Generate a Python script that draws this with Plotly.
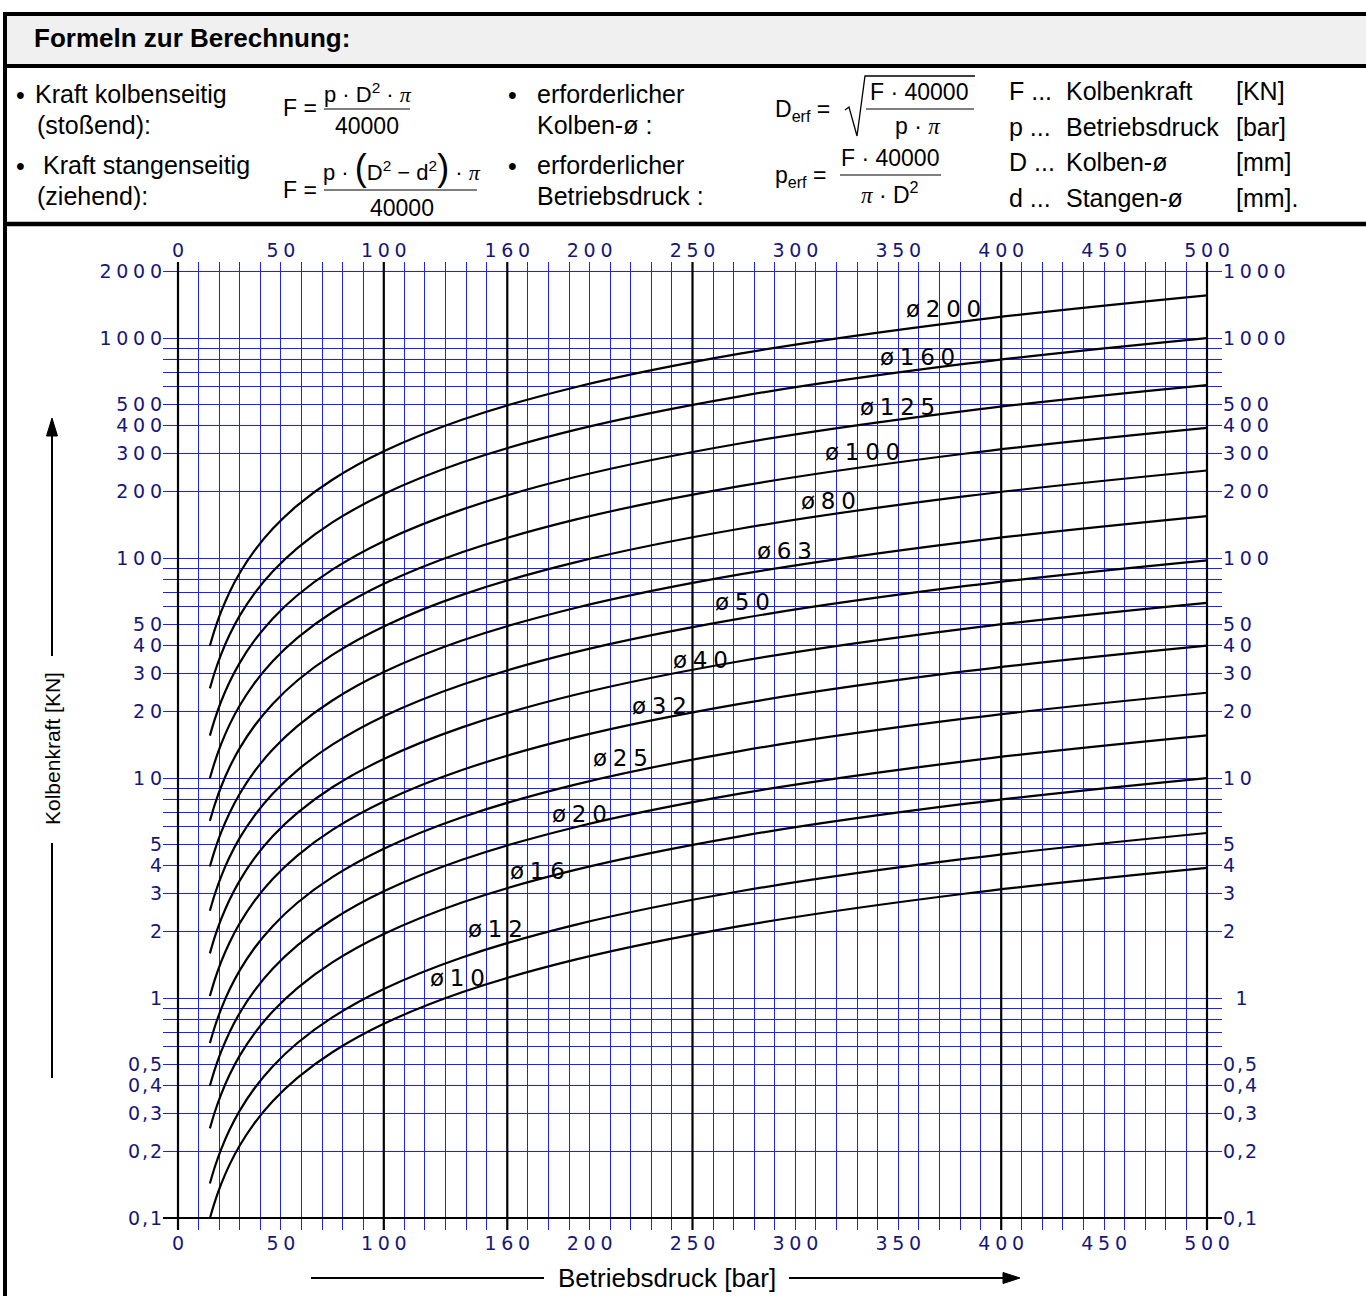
import math
import plotly.graph_objects as go

# ---------------- data ----------------
pressure_bar = [15.5, 18, 21, 25, 30, 37, 46, 58, 75, 100, 138, 193, 273, 383, 500]

diameter_labels = ["10", "12", "16", "20", "25", "32", "40", "50", "63", "80", "100", "125", "160", "200"]

force_d10 = [0.0997, 0.1194, 0.1429, 0.1744, 0.2136, 0.2686, 0.3393, 0.4335, 0.5671, 0.7634, 1.062, 1.494, 2.122, 2.986, 3.905]
force_d12 = [0.1436, 0.1719, 0.2058, 0.2511, 0.3076, 0.3868, 0.4886, 0.6243, 0.8166, 1.099, 1.529, 2.151, 3.056, 4.300, 5.623]
force_d16 = [0.2554, 0.3056, 0.3659, 0.4464, 0.5469, 0.6876, 0.8686, 1.110, 1.452, 1.954, 2.718, 3.824, 5.433, 7.644, 9.997]
force_d20 = [0.3990, 0.4775, 0.5718, 0.6974, 0.8545, 1.074, 1.357, 1.734, 2.268, 3.054, 4.248, 5.975, 8.488, 11.94, 15.62]
force_d25 = [0.6234, 0.7461, 0.8934, 1.090, 1.335, 1.679, 2.121, 2.710, 3.544, 4.771, 6.637, 9.336, 13.26, 18.66, 24.41]
force_d32 = [1.021, 1.222, 1.464, 1.785, 2.188, 2.751, 3.474, 4.439, 5.807, 7.817, 10.87, 15.30, 21.73, 30.58, 39.99]
force_d40 = [1.596, 1.910, 2.287, 2.790, 3.418, 4.298, 5.429, 6.937, 9.073, 12.21, 16.99, 23.90, 33.95, 47.78, 62.48]
force_d50 = [2.494, 2.985, 3.574, 4.359, 5.341, 6.715, 8.482, 10.84, 14.18, 19.09, 26.55, 37.35, 53.05, 74.65, 97.63]
force_d63 = [3.959, 4.738, 5.673, 6.920, 8.479, 10.66, 13.47, 17.21, 22.51, 30.30, 42.15, 59.29, 84.23, 118.5, 155.0]
force_d80 = [6.384, 7.640, 9.148, 11.16, 13.67, 17.19, 21.72, 27.75, 36.29, 48.86, 67.96, 95.60, 135.8, 191.1, 249.9]
force_d100 = [9.975, 11.94, 14.29, 17.44, 21.36, 26.86, 33.93, 43.35, 56.71, 76.34, 106.2, 149.4, 212.2, 298.6, 390.5]
force_d125 = [15.59, 18.65, 22.33, 27.24, 33.38, 41.97, 53.01, 67.74, 88.60, 119.3, 165.9, 233.4, 331.6, 466.6, 610.2]
force_d160 = [25.54, 30.56, 36.59, 44.64, 54.69, 68.76, 86.86, 111.0, 145.2, 195.4, 271.8, 382.4, 543.3, 764.4, 999.7]
force_d200 = [39.90, 47.75, 57.18, 69.74, 85.45, 107.4, 135.7, 173.4, 226.8, 305.4, 424.8, 597.5, 848.8, 1194, 1562]

force_series = [force_d10, force_d12, force_d16, force_d20, force_d25, force_d32, force_d40,
                force_d50, force_d63, force_d80, force_d100, force_d125, force_d160, force_d200]

label_pressure = [136, 154.5, 174.5, 195, 215, 234, 254, 274.5, 294.5, 316, 332.5, 349.5, 359.5, 372]
label_force = [1.23, 2.06, 3.78, 6.86, 12.3, 21.2, 34.4, 63.1, 107.6, 181.6, 303, 486, 820, 1355]

x_tick_vals = [0, 50, 100, 160, 200, 250, 300, 350, 400, 450, 500]
x_tick_text = ["0", "50", "100", "160", "200", "250", "300", "350", "400", "450", "500"]
x_grid_step = 10
x_bold_lines = [0, 100, 160, 250, 400, 500]

y_tick_vals = [0.1, 0.2, 0.3, 0.4, 0.5, 1, 2, 3, 4, 5, 10, 20, 30, 40, 50,
               100, 200, 300, 400, 500, 1000, 2000]
y_tick_text_left = ["0,1", "0,2", "0,3", "0,4", "0,5", "1", "2", "3", "4", "5", "10", "20", "30", "40", "50",
                    "100", "200", "300", "400", "500", "1000", "2000"]
y_tick_text_right = ["0,1", "0,2", "0,3", "0,4", "0,5", "1", "2", "3", "4", "5", "10", "20", "30", "40", "50",
                     "100", "200", "300", "400", "500", "1000", "1000"]
y_grid_extra = [0.6, 0.7, 0.8, 0.9, 6, 7, 8, 9, 60, 70, 80, 90, 600, 700, 800, 900]

# ---------------- layout helpers ----------------
W, H = 1366, 1296
PL, PR, PT, PB = 163, 1222, 262, 1230
X_RANGE = [-7.29, 507.29]
Y_RANGE = [-1.0545, 3.3455]

BLUE = "#2020ff"
NAVY = "#16167a"
SANS = "Liberation Sans, Arial, sans-serif"
WIDE = "DejaVu Sans, sans-serif"


def X(px):
    return (px - PL) / (PR - PL)


def Y(py):
    return (PB - py) / (PB - PT)


def spaced(s, gap="\u2005"):
    out = ""
    for i, ch in enumerate(s):
        if i > 0:
            out += "\u200a" if (ch == "," or s[i - 1] == ",") else gap
        out += ch
    return out


def right_label(t):
    # the single "1" on the right-hand scale sits further right in the original
    return ("\u2004\u2004" + t) if t == "1" else spaced(t)


PI = "<span style='font-family:Liberation Serif'><i>π</i></span>"

annotations = []
shapes = []


def ann(text, px, py, size=25, family=SANS, xanchor="left", color="black", **kw):
    annotations.append(dict(text=text, x=X(px), y=Y(py), xref="paper", yref="paper",
                            xanchor=xanchor, yanchor="middle", showarrow=False,
                            font=dict(size=size, family=family, color=color), **kw))


def line_px(x0, y0, x1, y1, w=1.2, color="black"):
    shapes.append(dict(type="line", xref="paper", yref="paper",
                       x0=X(x0), y0=Y(y0), x1=X(x1), y1=Y(y1),
                       line=dict(color=color, width=w)))


def path_px(points, fill=None, w=1.3):
    d = "M " + " L ".join(f"{X(a):.5f},{Y(b):.5f}" for a, b in points)
    if fill:
        d += " Z"
    shapes.append(dict(type="path", xref="paper", yref="paper", path=d,
                       fillcolor=fill if fill else "rgba(0,0,0,0)",
                       line=dict(color="black", width=w)))


# ---------------- header frame ----------------
shapes.append(dict(type="rect", xref="paper", yref="paper", x0=X(7), x1=X(1366), y0=Y(64), y1=Y(16),
                   fillcolor="#f0f0f0", line=dict(width=0), layer="below"))
line_px(3, 14, 1366, 14, 4)
line_px(3, 66, 1366, 66, 4)
line_px(3, 224, 1366, 224, 4.5)
line_px(5, 12, 5, 1296, 4)

ann("<b>Formeln zur Berechnung:</b>", 32, 38, size=26)

# column 1
ann("•", 20, 95, size=25, xanchor="center")
ann("Kraft kolbenseitig", 33, 94)
ann("(stoßend):", 35, 125)
ann("•", 20, 166, size=25, xanchor="center")
ann("Kraft stangenseitig", 41, 165)
ann("(ziehend):", 35, 196)

# formula 1
ann("F =", 281, 108, size=23)
ann("p · D<sup>2</sup> · " + PI, 368, 93, size=22, xanchor="center")
line_px(324, 109, 410, 109, 1.2)
ann("40000", 367, 126, size=23, xanchor="center")

# formula 2
BIGL = "<span style='font-size:36px'>(</span>"
BIGR = "<span style='font-size:36px'>)</span>"
ann("F =", 281, 190, size=23)
ann("p · " + BIGL + "D<sup>2</sup> − d<sup>2</sup>" + BIGR + " · " + PI, 402, 167, size=22, xanchor="center")
line_px(324, 190, 477, 190, 1.2)
ann("40000", 402, 208, size=23, xanchor="center")

# column 2
ann("•", 512, 95, size=25, xanchor="center")
ann("erforderlicher", 535, 94)
ann("Kolben-ø :", 535, 125)
ann("•", 512, 166, size=25, xanchor="center")
ann("erforderlicher", 535, 165)
ann("Betriebsdruck :", 535, 196)

# formula 3 (root)
ann("D<sub>erf</sub> =", 773, 110, size=23)
path_px([(845, 110), (849, 107), (857, 136), (865, 76), (975, 76)], w=1.3)
ann("F · 40000", 919, 92, size=23, xanchor="center")
line_px(866, 109, 974, 109, 1.2)
ann("p · " + PI, 918, 126, size=23, xanchor="center")

# formula 4
ann("p<sub>erf</sub> =", 773, 176, size=23)
ann("F · 40000", 890, 158, size=23, xanchor="center")
line_px(840, 175, 941, 175, 1.2)
ann(PI + " · D<sup>2</sup>", 890, 193, size=23, xanchor="center")

# column 3
rows = [("F ...", "Kolbenkraft", "[KN]", 91), ("p ...", "Betriebsdruck", "[bar]", 127),
        ("D ...", "Kolben-ø", "[mm]", 162), ("d ...", "Stangen-ø", "[mm].", 198)]
for a, b, c, yy in rows:
    ann(a, 1007, yy)
    ann(b, 1064, yy)
    ann(c, 1234, yy)

# ---------------- axis titles with arrows ----------------
ann("Kolbenkraft [KN]", 52, 749, size=21, xanchor="center", textangle=-90)
line_px(52, 434, 52, 656, 2)
line_px(52, 843, 52, 1078, 2)
path_px([(52, 418), (46.5, 436), (57.5, 436)], fill="black", w=1)

ann("Betriebsdruck [bar]", 667, 1278, size=26, xanchor="center")
line_px(311, 1278, 544, 1278, 2)
line_px(789, 1278, 1005, 1278, 2)
path_px([(1020, 1278), (1003, 1272.5), (1003, 1283.5)], fill="black", w=1)

# ---------------- chart ----------------
fig = go.Figure()

for vals in force_series:
    fig.add_trace(go.Scatter(x=pressure_bar, y=vals, mode="lines",
                             line=dict(color="black", width=2.2, shape="spline", smoothing=1.0),
                             hoverinfo="skip", showlegend=False))

# invisible trace so the mirrored axes are drawn
fig.add_trace(go.Scatter(x=pressure_bar, y=force_d10, xaxis="x2", yaxis="y2", mode="lines",
                         line=dict(width=0, color="rgba(0,0,0,0)"), hoverinfo="skip", showlegend=False))

for lbl, px_, fy in zip(diameter_labels, label_pressure, label_force):
    annotations.append(dict(text=spaced("ø" + lbl), x=px_, y=math.log10(fy), xref="x", yref="y",
                            showarrow=False, xanchor="center", yanchor="middle",
                            font=dict(size=23, family=WIDE, color="black")))

# bold black reference lines
for xv in x_bold_lines:
    shapes.append(dict(type="line", xref="x", yref="paper", x0=xv, x1=xv, y0=0, y1=1,
                       line=dict(color="black", width=2.2)))
shapes.append(dict(type="line", xref="paper", yref="y", x0=0, x1=1,
                   y0=y_tick_vals[0], y1=y_tick_vals[0], line=dict(color="black", width=2.2)))

x_grid_vals = list(range(0, 501, x_grid_step))
x_grid_text = [spaced(x_tick_text[x_tick_vals.index(v)]) if v in x_tick_vals else "" for v in x_grid_vals]

y_all_vals = sorted(y_tick_vals + y_grid_extra)
y_all_text = [spaced(y_tick_text_left[y_tick_vals.index(v)]) if v in y_tick_vals else "" for v in y_all_vals]

tickfont = dict(size=19, family=WIDE, color=NAVY)

fig.update_layout(
    width=W, height=H,
    margin=dict(l=PL, r=W - PR, t=PT, b=H - PB, pad=0),
    paper_bgcolor="white", plot_bgcolor="white",
    showlegend=False,
    xaxis=dict(range=X_RANGE, tickmode="array", tickvals=x_grid_vals, ticktext=x_grid_text,
               showgrid=True, gridcolor=BLUE, gridwidth=1, zeroline=False, showline=False,
               ticks="", tickfont=tickfont, side="bottom", fixedrange=True),
    xaxis2=dict(range=X_RANGE, overlaying="x", side="top", anchor="y", tickmode="array",
                tickvals=x_tick_vals, ticktext=[spaced(t) for t in x_tick_text],
                showgrid=False, zeroline=False, showline=False, ticks="", tickfont=tickfont,
                fixedrange=True),
    yaxis=dict(type="log", range=Y_RANGE, tickmode="array", tickvals=y_all_vals, ticktext=y_all_text,
               showgrid=True, gridcolor=BLUE, gridwidth=1, zeroline=False, showline=False,
               ticks="", tickfont=tickfont, fixedrange=True),
    yaxis2=dict(type="log", range=Y_RANGE, overlaying="y", side="right", anchor="x", tickmode="array",
                tickvals=y_tick_vals, ticktext=[right_label(t) for t in y_tick_text_right],
                showgrid=False, zeroline=False, showline=False, ticks="", tickfont=tickfont,
                fixedrange=True),
    shapes=shapes,
    annotations=annotations,
)

fig.write_html("out.html",
               config={"displayModeBar": False},
               post_script="document.body.style.margin='0px';document.body.style.overflow='hidden';")
